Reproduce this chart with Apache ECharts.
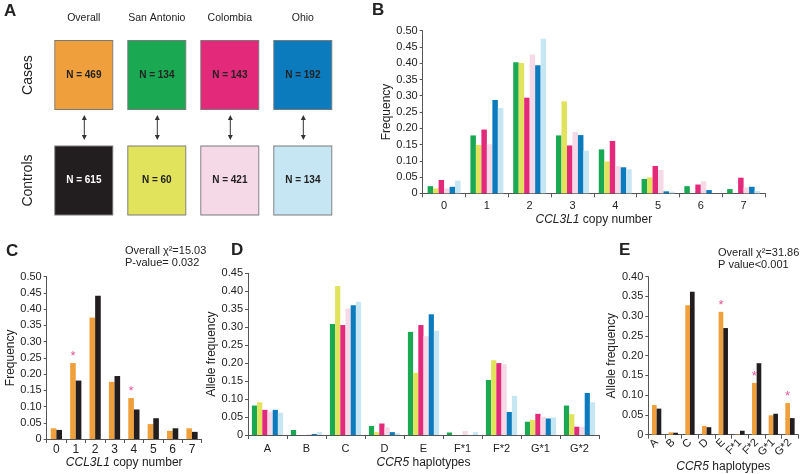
<!DOCTYPE html>
<html><head><meta charset="utf-8">
<script src="https://cdn.jsdelivr.net/npm/echarts@6/dist/echarts.min.js"></script>
<style>html,body{margin:0;padding:0;background:#fff}#c{width:800px;height:474px}</style>
</head><body><div id="c"></div>
<script>
// ---------- Panel A ----------
const cohorts = ['Overall', 'San Antonio', 'Colombia', 'Ohio'];
const groups = ['Cases', 'Controls'];
const casesN = [469, 134, 143, 192];
const controlsN = [615, 60, 421, 134];

// ---------- Panel B / C (CCL3L1 copy number) ----------
const copyNumbers = ['0', '1', '2', '3', '4', '5', '6', '7'];
const saCasesCN   = [0.022, 0.178, 0.403, 0.178, 0.135, 0.044, 0.022, 0.013];
const saCtrlCN    = [0.015, 0.149, 0.401, 0.283, 0.098, 0.049, 0, 0];
const colCasesCN  = [0.041, 0.196, 0.294, 0.147, 0.161, 0.084, 0.027, 0.048];
const colCtrlCN   = [0.015, 0.151, 0.427, 0.189, 0.084, 0.072, 0.037, 0.018];
const ohCasesCN   = [0.020, 0.287, 0.394, 0.179, 0.080, 0.006, 0.010, 0.020];
const ohCtrlCN    = [0.039, 0.262, 0.475, 0.131, 0.074, 0.005, 0, 0.007];
const allCasesCN  = [0.033, 0.234, 0.374, 0.176, 0.126, 0.046, 0.025, 0.033];
const allCtrlCN   = [0.028, 0.180, 0.441, 0.194, 0.091, 0.064, 0.033, 0.022];
const sigCN       = [0, 1, 0, 0, 1, 0, 0, 0];

// ---------- Panel D / E (CCR5 haplotypes) ----------
const haplotypes = ['A', 'B', 'C', 'D', 'E', 'F*1', 'F*2', 'G*1', 'G*2'];
const saCasesHap  = [0.082, 0.014, 0.309, 0.025, 0.287, 0.007, 0.153, 0.037, 0.082];
const saCtrlHap   = [0.091, 0, 0.415, 0.008, 0.173, 0, 0.208, 0.042, 0.058];
const colCasesHap = [0.070, 0, 0.306, 0.032, 0.306, 0, 0.200, 0.059, 0.023];
const colCtrlHap  = [0.065, 0.002, 0.352, 0.021, 0.275, 0.011, 0.197, 0.051, 0.023];
const ohCasesHap  = [0.070, 0.003, 0.361, 0.008, 0.336, 0, 0.064, 0.046, 0.117];
const ohCtrlHap   = [0.062, 0.008, 0.371, 0.005, 0.290, 0.008, 0.109, 0.049, 0.091];
const allCasesHap = [0.075, 0.006, 0.328, 0.022, 0.311, 0.001, 0.131, 0.049, 0.080];
const allCtrlHap  = [0.066, 0.005, 0.362, 0.019, 0.270, 0.010, 0.181, 0.053, 0.042];
const sigHap      = [0, 0, 0, 0, 1, 0, 1, 0, 1];

const statsC = ['Overall \u03c7\u00b2=15.03', 'P-value= 0.032'];
const statsE = ['Overall \u03c7\u00b2=31.86', 'P value<0.001'];

// ---------- styles ----------
const FONT = 'Liberation Sans, Arial, sans-serif';
const C_OR = '#EF9F3B', C_BK = '#221E1F', C_GR = '#1BA853', C_YE = '#E0E35B',
      C_MA = '#E2297A', C_PK = '#F6D9E7', C_BL = '#0B7BBE', C_LB = '#C6E6F4';
const caseColors = [C_OR, C_GR, C_MA, C_BL];
const ctrlColors = [C_BK, C_YE, C_PK, C_LB];
const sixColors = [C_GR, C_YE, C_MA, C_PK, C_BL, C_LB];
const STAR = '#E8559B';

const chart = echarts.init(document.getElementById('c'), null, {renderer: 'canvas'});

function valAxis(gridIndex, max, name, gap) {
  return {
    type: 'value', gridIndex, min: 0, max, interval: 0.05,
    name, nameLocation: 'middle', nameGap: gap,
    nameTextStyle: {fontFamily: FONT, fontSize: 12, color: '#222'},
    axisLine: {show: true, lineStyle: {color: '#555', width: 1}},
    axisTick: {show: true, length: 3, lineStyle: {color: '#555'}},
    axisLabel: {fontFamily: FONT, fontSize: 11, color: '#222', margin: 5,
      formatter: v => v === 0 ? '0' : v.toFixed(2)},
    splitLine: {show: false}
  };
}
function catAxis(gridIndex, data, name, gap, extra) {
  return Object.assign({
    type: 'category', gridIndex, data,
    name, nameLocation: 'middle', nameGap: gap,
    nameTextStyle: {fontFamily: FONT, fontSize: 12, color: '#222',
      rich: {i: {fontFamily: FONT, fontSize: 12, fontStyle: 'italic', color: '#222'}}},
    axisLine: {show: true, lineStyle: {color: '#555', width: 1}},
    axisTick: {show: true, length: 4, lineStyle: {color: '#555'}},
    axisLabel: {fontFamily: FONT, fontSize: 11, color: '#222', interval: 0, margin: 7}
  }, extra || {});
}
function barSeries(name, data, color, xi, yi, catGap, sig) {
  return {
    type: 'bar', name, xAxisIndex: xi, yAxisIndex: yi, barGap: '0%', barCategoryGap: catGap,
    itemStyle: {color}, animation: false,
    data: data.map((v, i) => sig && sig[i] ? {value: v,
      label: {show: true, position: 'top', distance: 0, formatter: '*',
        color: STAR, fontFamily: FONT, fontSize: 13}} : v)
  };
}

const series = [];
// Panel A boxes
const boxData = [];
cohorts.forEach((c, i) => {
  boxData.push({value: [i, 0, casesN[i]], itemStyle: {color: caseColors[i]}, label: {color: '#222'}});
  boxData.push({value: [i, 1, controlsN[i]], itemStyle: {color: ctrlColors[i]}, label: {color: i === 0 ? '#fff' : '#222'}});
});
series.push({
  type: 'scatter', xAxisIndex: 0, yAxisIndex: 0, symbol: 'rect', symbolSize: [58, 69],
  itemStyle: {borderColor: '#7a7a7a', borderWidth: 1, opacity: 1}, animation: false,
  label: {show: true, position: 'inside', fontFamily: FONT, fontSize: 10, fontWeight: 'bold',
    formatter: p => 'N = ' + p.value[2]},
  emphasis: {disabled: true},
  data: boxData
});
series.push({
  type: 'custom', xAxisIndex: 0, yAxisIndex: 0, animation: false, silent: true,
  data: cohorts.map((c, i) => [i, 0]),
  renderItem: function (params, api) {
    const a = api.coord([api.value(0), 0]);
    const b = api.coord([api.value(0), 1]);
    const x = a[0] + 0.5, y1 = a[1] + 40, y2 = b[1] - 40.5, h = 5, w = 2.5;
    return {type: 'group', children: [
      {type: 'line', shape: {x1: x, y1: y1 + 2, x2: x, y2: y2 - 2}, style: {stroke: '#333', lineWidth: 1}},
      {type: 'polygon', shape: {points: [[x, y1], [x - w, y1 + h], [x + w, y1 + h]]}, style: {fill: '#333'}},
      {type: 'polygon', shape: {points: [[x, y2], [x - w, y2 - h], [x + w, y2 - h]]}, style: {fill: '#333'}}
    ]};
  }
});
// Panel B
[saCasesCN, saCtrlCN, colCasesCN, colCtrlCN, ohCasesCN, ohCtrlCN].forEach((d, k) =>
  series.push(barSeries('B' + k, d, sixColors[k], 1, 1, '23%')));
// Panel C
series.push(barSeries('Cases', allCasesCN, C_OR, 2, 2, '42%', sigCN));
series.push(barSeries('Controls', allCtrlCN, C_BK, 2, 2, '42%'));
// Panel D
[saCasesHap, saCtrlHap, colCasesHap, colCtrlHap, ohCasesHap, ohCtrlHap].forEach((d, k) =>
  series.push(barSeries('D' + k, d, sixColors[k], 3, 3, '20%')));
// Panel E
series.push(barSeries('CasesE', allCasesHap, C_OR, 4, 4, '44%', sigHap));
series.push(barSeries('ControlsE', allCtrlHap, C_BK, 4, 4, '44%'));

function txt(left, top, text, size, bold) {
  return {type: 'text', left, top, style: {text, fontFamily: FONT, fontSize: size,
    fontWeight: bold ? 'bold' : 'normal', fill: '#222'}};
}

chart.setOption({
  backgroundColor: '#fff',
  animation: false,
  grid: [
    {left: 47.3, top: 22.3, width: 292, height: 211},
    {left: 422.7, top: 30.7, width: 342.3, height: 162.6},
    {left: 46.7, top: 276.7, width: 155, height: 162.3},
    {left: 248, top: 273.3, width: 351, height: 161.7},
    {left: 648.3, top: 276.7, width: 150, height: 158.3}
  ],
  xAxis: [
    {type: 'category', gridIndex: 0, data: cohorts, position: 'top',
      axisLine: {show: false}, axisTick: {show: false}, splitLine: {show: false},
      axisLabel: {fontFamily: FONT, fontSize: 10.5, color: '#222', margin: -1, interval: 0}},
    catAxis(1, copyNumbers, '{i|CCL3L1} copy number', 20, {}),
    catAxis(2, copyNumbers, '{i|CCL3L1} copy number', 15, {axisLabel: {fontFamily: FONT, fontSize: 12, color: '#222', interval: 0, margin: 5}}),
    catAxis(3, haplotypes, '{i|CCR5} haplotypes', 22, {axisLabel: {fontFamily: FONT, fontSize: 11, color: '#222', interval: 0, margin: 8}}),
    catAxis(4, haplotypes, '{i|CCR5} haplotypes', 21, {axisLabel: {fontFamily: FONT, fontSize: 11, color: '#222', interval: 0, margin: 6, rotate: 45}})
  ],
  yAxis: [
    {type: 'category', gridIndex: 0, data: groups, inverse: true,
      axisLine: {show: false}, axisTick: {show: false}, splitLine: {show: false},
      axisLabel: {fontFamily: FONT, fontSize: 14, color: '#222', rotate: 90, margin: 12}},
    valAxis(1, 0.5, 'Frequency', 28),
    valAxis(2, 0.5, 'Frequency', 28),
    valAxis(3, 0.45, 'Allele frequency', 29),
    valAxis(4, 0.40, 'Allele frequency', 29)
  ],
  series,
  graphic: [
    txt(4, 3, 'A', 17, true),
    txt(372, 2, 'B', 17, true),
    txt(6, 243, 'C', 17, true),
    txt(231, 242, 'D', 17, true),
    txt(619, 242, 'E', 17, true),
    txt(125, 245, statsC[0], 11),
    txt(125, 257, statsC[1], 11),
    txt(718, 247, statsE[0], 11),
    txt(718, 259, statsE[1], 11)
  ]
});
</script></body></html>
